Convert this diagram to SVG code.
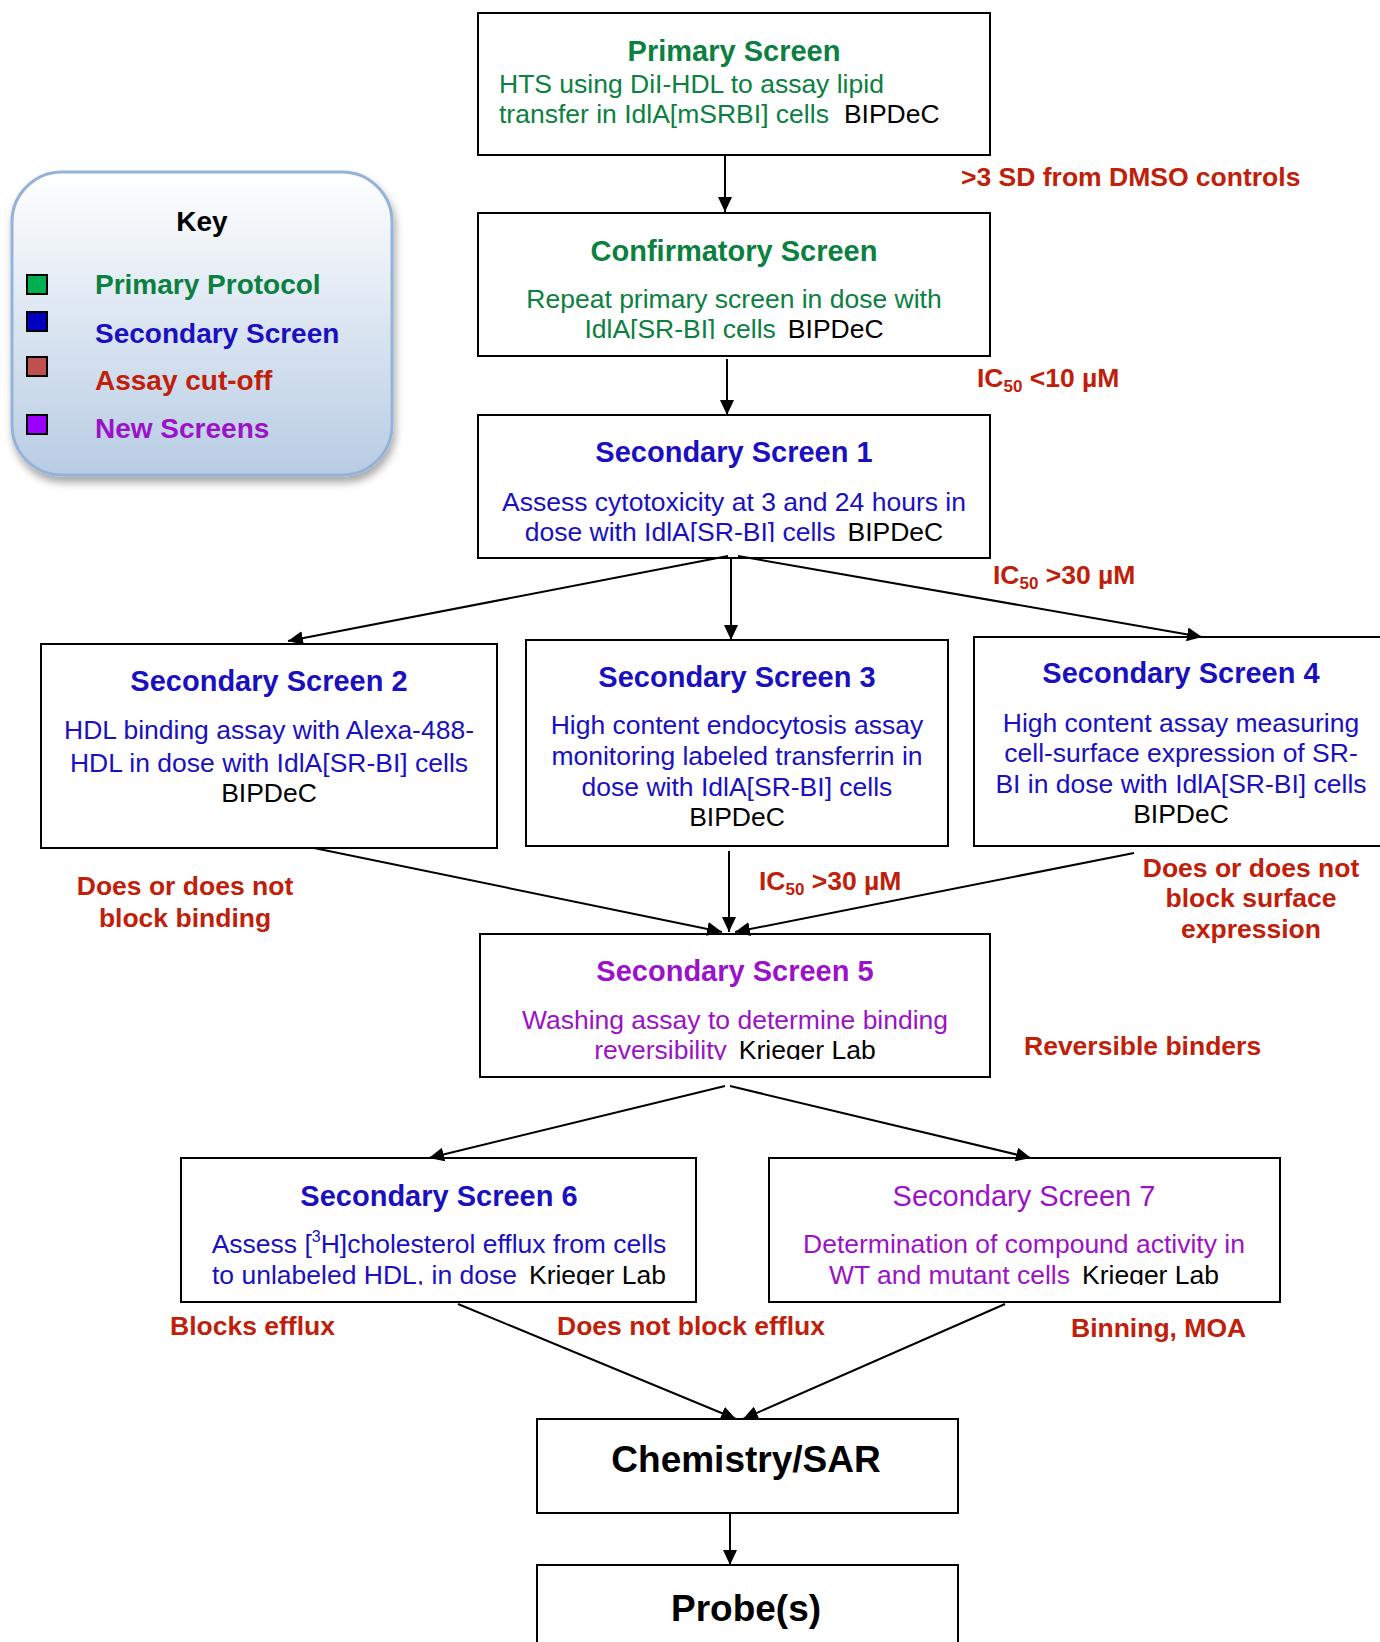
<svg xmlns="http://www.w3.org/2000/svg" width="1380" height="1642" viewBox="0 0 1380 1642">
<style>
.box{fill:#ffffff;stroke:#000000;stroke-width:2}
.t{font-family:"Liberation Sans",Arial,sans-serif}
.title{font-family:"Liberation Sans",Arial,sans-serif;font-weight:bold;font-size:29px;text-anchor:middle}
.body{font-family:"Liberation Sans",Arial,sans-serif;font-size:26.5px}
.mid{text-anchor:middle}
.cut{font-family:"Liberation Sans",Arial,sans-serif;font-weight:bold;font-size:26.5px;fill:#c0200a}
.green{fill:#0b8040}
.blue{fill:#1a10c0}
.purple{fill:#9b12c8}
.black{fill:#000000}
.conn line{stroke:#000000;stroke-width:2;fill:none}
.big{font-family:"Liberation Sans",Arial,sans-serif;font-weight:bold;font-size:37px;text-anchor:middle;fill:#000000}
.key{font-family:"Liberation Sans",Arial,sans-serif;font-weight:bold;font-size:28px}
.sq{stroke:#000000;stroke-width:2}
</style>
<defs>
<marker id="arr" markerUnits="userSpaceOnUse" markerWidth="16" markerHeight="14" refX="15" refY="7" orient="auto">
<path d="M0,0 L15,7 L0,14 z" fill="#000000"/>
</marker>
<linearGradient id="keyg" x1="0" y1="0" x2="0" y2="1">
<stop offset="0" stop-color="#ffffff"/>
<stop offset="1" stop-color="#b8cce4"/>
</linearGradient>
<filter id="shadow" x="-10%" y="-10%" width="125%" height="130%">
<feGaussianBlur in="SourceAlpha" stdDeviation="4"/>
<feOffset dx="2" dy="6" result="o"/>
<feComponentTransfer><feFuncA type="linear" slope="0.35"/></feComponentTransfer>
<feMerge><feMergeNode/><feMergeNode in="SourceGraphic"/></feMerge>
</filter>
<clipPath id="clipConf"><rect x="478" y="213" width="512" height="126"/></clipPath>
<clipPath id="clipS1"><rect x="478" y="415" width="512" height="127"/></clipPath>
<clipPath id="clipS5"><rect x="480" y="934" width="510" height="126"/></clipPath>
<clipPath id="clipS6"><rect x="181" y="1158" width="515" height="127"/></clipPath>
<clipPath id="clipS7"><rect x="769" y="1158" width="511" height="127"/></clipPath>
</defs>

<rect width="1380" height="1642" fill="#ffffff"/>

<g id="key">
<rect x="12" y="172" width="380" height="303" rx="50" ry="50" fill="url(#keyg)" stroke="#95b3d7" stroke-width="3" filter="url(#shadow)"/>
<text class="t" x="202" y="231" font-weight="bold" font-size="28" text-anchor="middle">Key</text>
<rect class="sq" x="27" y="275" width="20" height="19" fill="#00b050"/>
<rect class="sq" x="27" y="312" width="20" height="19" fill="#0000c0"/>
<rect class="sq" x="27" y="357" width="20" height="19" fill="#c0504d"/>
<rect class="sq" x="27" y="415" width="20" height="19" fill="#9900ff"/>
<text class="key green" x="95" y="294">Primary Protocol</text>
<text class="key blue" x="95" y="343">Secondary Screen</text>
<text class="key" x="95" y="390" fill="#c0200a">Assay cut-off</text>
<text class="key purple" x="95" y="438">New Screens</text>
</g>

<g id="primary">
<rect class="box" x="478" y="13" width="512" height="142"/>
<text class="title green" x="734" y="61">Primary Screen</text>
<text class="body green" x="499" y="93">HTS using DiI-HDL to assay lipid</text>
<text class="body green" x="499" y="123">transfer in IdlA[mSRBI] cells<tspan class="black" dx="15">BIPDeC</tspan></text>
</g>

<g id="confirmatory">
<rect class="box" x="478" y="213" width="512" height="143"/>
<text class="title green" x="734" y="261">Confirmatory Screen</text>
<text class="body green mid" x="734" y="308">Repeat primary screen in dose with</text>
<text class="body green mid" x="734" y="338" clip-path="url(#clipConf)">IdlA[SR-BI] cells<tspan class="black" dx="12">BIPDeC</tspan></text>
</g>

<g id="ss1">
<rect class="box" x="478" y="415" width="512" height="143"/>
<text class="title blue" x="734" y="462">Secondary Screen 1</text>
<text class="body blue mid" x="734" y="511">Assess cytotoxicity at 3 and 24 hours in</text>
<text class="body blue mid" x="734" y="541" clip-path="url(#clipS1)">dose with IdlA[SR-BI] cells<tspan class="black" dx="12">BIPDeC</tspan></text>
</g>

<g id="ss2">
<rect class="box" x="41" y="644" width="456" height="204"/>
<text class="title blue" x="269" y="691">Secondary Screen 2</text>
<text class="body blue mid" x="269" y="739">HDL binding assay with Alexa-488-</text>
<text class="body blue mid" x="269" y="772">HDL in dose with IdlA[SR-BI] cells</text>
<text class="body black mid" x="269" y="802">BIPDeC</text>
</g>

<g id="ss3">
<rect class="box" x="526" y="640" width="422" height="206"/>
<text class="title blue" x="737" y="687">Secondary Screen 3</text>
<text class="body blue mid" x="737" y="734">High content endocytosis assay</text>
<text class="body blue mid" x="737" y="765">monitoring labeled transferrin in</text>
<text class="body blue mid" x="737" y="796">dose with IdlA[SR-BI] cells</text>
<text class="body black mid" x="737" y="826">BIPDeC</text>
</g>

<g id="ss4">
<rect class="box" x="974" y="637" width="412" height="209"/>
<text class="title blue" x="1181" y="683">Secondary Screen 4</text>
<text class="body blue mid" x="1181" y="732">High content assay measuring</text>
<text class="body blue mid" x="1181" y="762">cell-surface expression of SR-</text>
<text class="body blue mid" x="1181" y="793">BI in dose with IdlA[SR-BI] cells</text>
<text class="body black mid" x="1181" y="823">BIPDeC</text>
</g>

<g id="ss5">
<rect class="box" x="480" y="934" width="510" height="143"/>
<text class="title purple" x="735" y="981">Secondary Screen 5</text>
<text class="body purple mid" x="735" y="1029">Washing assay to determine binding</text>
<text class="body purple mid" x="735" y="1059" clip-path="url(#clipS5)">reversibility<tspan class="black" dx="12">Krieger Lab</tspan></text>
</g>

<g id="ss6">
<rect class="box" x="181" y="1158" width="515" height="144"/>
<text class="title blue" x="439" y="1206">Secondary Screen 6</text>
<text class="body blue mid" x="439" y="1253">Assess [<tspan font-size="16" dy="-11">3</tspan><tspan dy="11">H]cholesterol efflux from cells</tspan></text>
<text class="body blue mid" x="439" y="1284" clip-path="url(#clipS6)">to unlabeled HDL, in dose<tspan class="black" dx="12">Krieger Lab</tspan></text>
</g>

<g id="ss7">
<rect class="box" x="769" y="1158" width="511" height="144"/>
<text class="t purple" x="1024" y="1206" font-size="29" text-anchor="middle">Secondary Screen 7</text>
<text class="body purple mid" x="1024" y="1253">Determination of compound activity in</text>
<text class="body purple mid" x="1024" y="1284" clip-path="url(#clipS7)">WT and mutant cells<tspan class="black" dx="12">Krieger Lab</tspan></text>
</g>

<g id="chemistry">
<rect class="box" x="537" y="1419" width="421" height="94"/>
<text class="big" x="746" y="1472">Chemistry/SAR</text>
</g>

<g id="probes">
<rect class="box" x="537" y="1565" width="421" height="90"/>
<text class="big" x="746" y="1621">Probe(s)</text>
</g>

<g id="labels">
<text class="cut" x="961" y="186">&gt;3 SD from DMSO controls</text>
<text class="cut" x="977" y="387">IC<tspan font-size="17" dy="5">50</tspan><tspan dy="-5"> &lt;10 µM</tspan></text>
<text class="cut" x="993" y="584">IC<tspan font-size="17" dy="5">50</tspan><tspan dy="-5"> &gt;30 µM</tspan></text>
<text class="cut" x="759" y="890">IC<tspan font-size="17" dy="5">50</tspan><tspan dy="-5"> &gt;30 µM</tspan></text>
<text class="cut mid" x="185" y="895">Does or does not</text>
<text class="cut mid" x="185" y="927">block binding</text>
<text class="cut mid" x="1251" y="877">Does or does not</text>
<text class="cut mid" x="1251" y="907">block surface</text>
<text class="cut mid" x="1251" y="938">expression</text>
<text class="cut" x="1024" y="1055">Reversible binders</text>
<text class="cut" x="170" y="1335">Blocks efflux</text>
<text class="cut" x="557" y="1335">Does not block efflux</text>
<text class="cut" x="1071" y="1337">Binning, MOA</text>
</g>

<g id="connectors" class="conn">
<line x1="725" y1="155" x2="725" y2="212" marker-end="url(#arr)"/>
<line x1="727" y1="359" x2="727" y2="415" marker-end="url(#arr)"/>
<line x1="728" y1="556" x2="288" y2="641" marker-end="url(#arr)"/>
<line x1="731" y1="558" x2="731" y2="640" marker-end="url(#arr)"/>
<line x1="738" y1="556" x2="1202" y2="637" marker-end="url(#arr)"/>
<line x1="314" y1="848" x2="722" y2="932" marker-end="url(#arr)"/>
<line x1="729" y1="851" x2="729" y2="932" marker-end="url(#arr)"/>
<line x1="1134" y1="853" x2="735" y2="932" marker-end="url(#arr)"/>
<line x1="725" y1="1086" x2="429" y2="1158" marker-end="url(#arr)"/>
<line x1="730" y1="1086" x2="1031" y2="1158" marker-end="url(#arr)"/>
<line x1="458" y1="1304" x2="736" y2="1419" marker-end="url(#arr)"/>
<line x1="1005" y1="1304" x2="743" y2="1419" marker-end="url(#arr)"/>
<line x1="730" y1="1513" x2="730" y2="1565" marker-end="url(#arr)"/>
</g>
</svg>
